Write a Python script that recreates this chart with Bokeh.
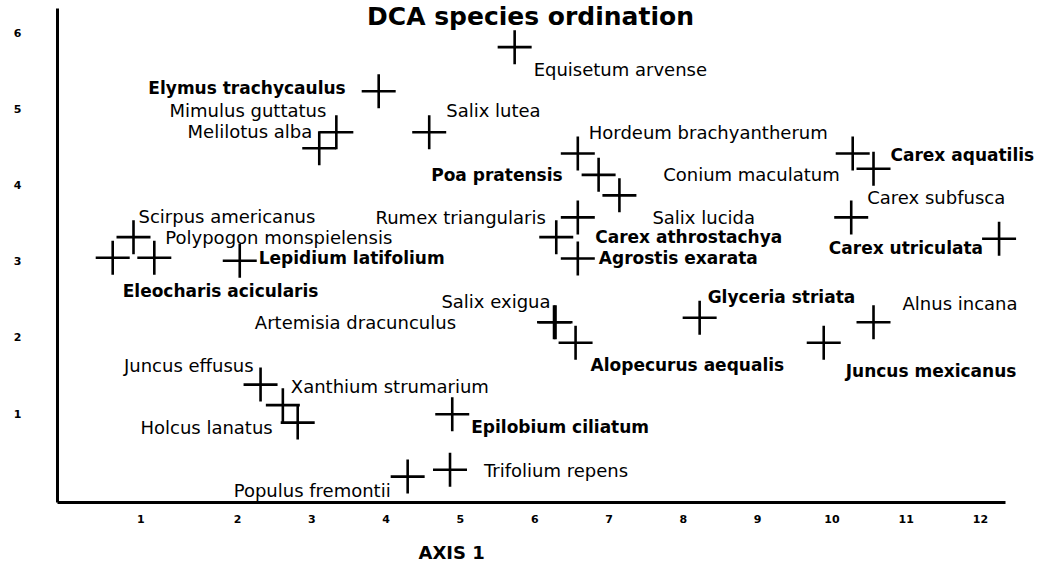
from bokeh.plotting import figure
from bokeh.models import ColumnDataSource, Range1d, FixedTicker, Label, Title
from bokeh.core.properties import value
from bokeh.embed import file_html
from bokeh.resources import INLINE

# ---------------- data ----------------
species = [
    "Equisetum arvense", "Elymus trachycaulus", "Mimulus guttatus", "Melilotus alba",
    "Salix lutea", "Hordeum brachyantherum", "Poa pratensis", "Salix lucida",
    "Rumex triangularis", "Carex athrostachya", "Agrostis exarata", "Conium maculatum",
    "Carex aquatilis", "Carex subfusca", "Carex utriculata", "Scirpus americanus",
    "Eleocharis acicularis", "Polypogon monspielensis", "Lepidium latifolium",
    "Salix exigua", "Artemisia dracunculus", "Alopecurus aequalis", "Glyceria striata",
    "Juncus mexicanus", "Alnus incana", "Juncus effusus", "Xanthium strumarium",
    "Holcus lanatus", "Epilobium ciliatum", "Populus fremontii", "Trifolium repens",
]
axis1_scores = [
    5.73, 3.90, 3.33, 3.10,
    4.58, 6.58, 6.86, 7.14,
    6.58, 6.29, 6.58, 10.28,
    10.56, 10.26, 12.25, 0.60,
    0.32, 0.88, 2.03,
    6.28, 6.26, 6.55, 8.22,
    9.89, 10.56, 2.31, 2.61,
    2.81, 4.89, 4.29, 4.86,
]
axis2_scores = [
    5.82, 5.24, 4.70, 4.49,
    4.70, 4.42, 4.14, 3.87,
    3.58, 3.32, 3.04, 4.42,
    4.22, 3.58, 3.30, 3.32,
    3.05, 3.05, 3.01,
    2.20, 2.20, 1.93, 2.26,
    1.93, 2.20, 1.38, 1.11,
    0.88, 0.99, 0.17, 0.26,
]
bold_name = [
    False, True, False, False,
    False, False, True, False,
    False, True, True, False,
    True, False, True, False,
    True, False, True,
    False, False, True, True,
    True, False, False, False,
    False, True, False, False,
]
x_tick_values = [0.7, 2, 3, 4, 5, 6, 7, 8, 9, 10, 11, 12]
x_tick_labels = ["1", "2", "3", "4", "5", "6", "7", "8", "9", "10", "11", "12"]
y_tick_values = [1, 2, 3, 4, 5, 6]
y_tick_labels = ["1", "2", "3", "4", "5", "6"]
x_axis_title = "AXIS 1"
chart_title = "DCA species ordination"

# ---------------- label layout (pixel offsets from each cross) ----------------
label_dx = [19, -33, -10, -7, 17, 11, -36, 33, -32, 39, 21, -13, 17, 16, -16, 5,
            10, 11, 19, -5, -98, 15, 8, 22, 29, -7, 8, -25, 19, -17, 34]
label_dy = [22, -3, -22, -17, -22, -21, 0, 22, 0, 0, 0, 21, -14, -20, 9, -21,
            33, -20, -3, -21, 0, 22, -21, 28, -19, -19, -19, 5, 13, 14, 1]
label_align = ["left", "right", "right", "right", "left", "left", "right", "left",
               "right", "left", "left", "right", "left", "left", "right", "left",
               "left", "left", "left", "right", "right", "left", "left", "left",
               "left", "right", "left", "right", "left", "right", "left"]

source = ColumnDataSource(dict(
    x=axis1_scores, y=axis2_scores, name=species,
    dx=label_dx, dy=label_dy, align=label_align,
    style=["bold" if b else "normal" for b in bold_name],
    size=["17px" if b else "18px" for b in bold_name],
))

FONT = "DejaVu Sans"
X0, X1, XEND = -0.423, 12.337, 12.821
Y0, Y1, YEND = -0.171, 6.329, 6.434

p = figure(width=1041, height=579, output_backend="svg", toolbar_location=None,
           title=None,
           x_range=Range1d(X0, XEND), y_range=Range1d(Y0, YEND),
           min_border_left=57, min_border_right=0, min_border_top=0, min_border_bottom=77)
p.outline_line_color = None
p.xgrid.visible = False
p.ygrid.visible = False
p.background_fill_color = "white"
p.border_fill_color = "white"

for ax in (p.xaxis[0], p.yaxis[0]):
    ax.axis_line_width = 3
    ax.axis_line_color = "black"
    ax.major_tick_in = 0
    ax.major_tick_out = 0
    ax.minor_tick_in = 0
    ax.minor_tick_out = 0
    ax.major_label_text_font = FONT
    ax.major_label_text_font_style = "bold"
    ax.major_label_text_font_size = "11px"
    ax.major_label_text_color = "black"

p.xaxis.bounds = (X0, X1)
p.yaxis.bounds = (Y0, Y1)
p.xaxis.ticker = FixedTicker(ticks=x_tick_values)
p.xaxis.major_label_overrides = {v: l for v, l in zip(x_tick_values, x_tick_labels)}
p.xaxis.major_label_standoff = 12
p.yaxis.ticker = FixedTicker(ticks=y_tick_values)
p.yaxis.major_label_overrides = {v: l for v, l in zip(y_tick_values, y_tick_labels)}
p.yaxis.major_label_standoff = 36

p.add_layout(Title(text=x_axis_title, align="left", offset=361, standoff=29,
                   text_font=FONT, text_font_style="bold",
                   text_font_size="18px", text_color="black"), "below")

p.scatter("x", "y", source=source, marker="cross", size=34,
          line_width=2.6, line_color="black")

p.text("x", "y", text="name", source=source, x_offset="dx", y_offset="dy",
       text_align="align", text_baseline="middle", text_font=value(FONT),
       text_font_style="style", text_font_size="size", text_color="black")

p.add_layout(Label(x=473, y=501, x_units="screen", y_units="screen",
                   text=chart_title, text_align="center",
                   text_baseline="top", text_font=FONT, text_font_style="bold",
                   text_font_size="25px", text_color="black"))

open("out.html", "w").write(file_html(p, INLINE))
